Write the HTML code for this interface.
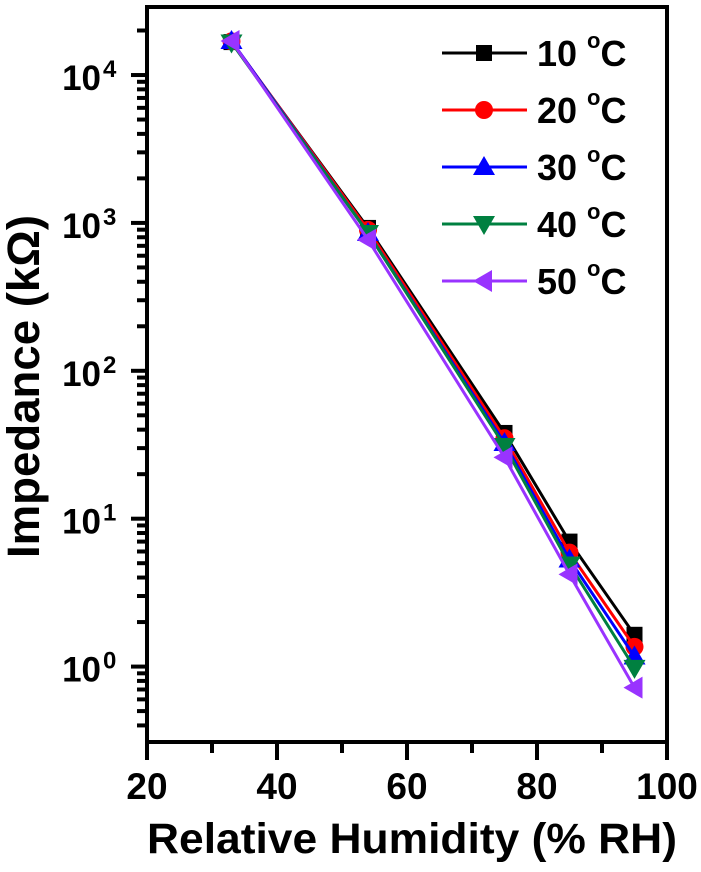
<!DOCTYPE html>
<html><head><meta charset="utf-8"><style>
body{margin:0;background:#fff}
svg text{font-family:"Liberation Sans",Arial,sans-serif;font-weight:bold;fill:#000}
</style></head><body>
<svg id="chart" width="701" height="867" viewBox="0 0 701 867" xmlns="http://www.w3.org/2000/svg">
<g id="axes"></g>
<g id="series"></g>
<g id="legend"></g>
<text x="147" y="853" font-size="43" textLength="530" lengthAdjust="spacingAndGlyphs">Relative Humidity (% RH)</text>
<text transform="translate(39,558) rotate(-90)" font-size="45" textLength="343" lengthAdjust="spacingAndGlyphs">Impedance (kΩ)</text>
</svg>
<script>
const humidity=[33,54,75,85,95];
const labels=["10","20","30","40","50"];
const colors=["#000000","#ff0000","#0000ff","#008040","#9933ff"];
const markers=["square","circle","triUp","triDown","triLeft"];
const s10=[16700,925,38,7.0,1.64];
const s20=[16900,897,35,5.9,1.36];
const s30=[17000,855,32.5,5.3,1.17];
const s40=[16600,855,31,4.9,0.98];
const s50=[17000,770,26,4.2,0.72];
const seriesVals=[s10,s20,s30,s40,s50];
const xTicks=[20,40,60,80,100];
const yTicks=[0,1,2,3,4];

const L=147,R=667,T=7,B=742;
const xS=v=>L+(v-20)*(R-L)/80;
const yTop=4.46,yBot=-0.51;
const yS=v=>T+(yTop-Math.log10(v))*(B-T)/(yTop-yBot);
const NS="http://www.w3.org/2000/svg";
function mk(tag,attrs,parent){const e=document.createElementNS(NS,tag);for(const k in attrs)e.setAttribute(k,attrs[k]);parent.appendChild(e);return e;}
const ax=document.getElementById('axes');
const frame=mk('rect',{x:L,y:T,width:R-L,height:B-T,fill:'none',stroke:'#000','stroke-width':4},ax);


for(let v=20;v<=100;v+=10){
  const major=v%20===0;
  const t=mk('line',{x1:xS(v),x2:xS(v),y1:B,y2:B+(major?18:11),stroke:'#000','stroke-width':4},ax);
  
  
}
xTicks.forEach(v=>{
  const t=mk('text',{x:xS(v),y:799,'font-size':37,'text-anchor':'middle'},ax);
  t.textContent=v;
  
  
});
for(let d=-1;d<=4;d++){
  for(let m=1;m<=9;m++){
    const v=m*Math.pow(10,d);const y=yS(v);
    if(y<T-1||y>B+1)continue;
    const t=mk('line',{x1:L,x2:L-(m===1?16:10),y1:y,y2:y,stroke:'#000','stroke-width':4},ax);
    
    
  }
}
yTicks.forEach(p=>{
  const y0=yS(Math.pow(10,p));
  const t=mk('text',{x:101,y:y0+15,'font-size':35,'text-anchor':'end'},ax);
  t.textContent='10';
  
  
  const s=mk('text',{x:103,y:y0+2,'font-size':24},ax);
  s.textContent=p;
  
  
});
function marker(type,x,y,c,parent){
  let e;
  if(type==='square')e=mk('rect',{x:x-8,y:y-8,width:16,height:16,fill:c},parent);
  else if(type==='circle')e=mk('circle',{cx:x,cy:y,r:9,fill:c},parent);
  else if(type==='triUp')e=mk('polygon',{points:`${x},${y-11} ${x+11},${y+8} ${x-11},${y+8}`,fill:c},parent);
  else if(type==='triDown')e=mk('polygon',{points:`${x},${y+11} ${x+11},${y-8} ${x-11},${y-8}`,fill:c},parent);
  else e=mk('polygon',{points:`${x-11},${y} ${x+8},${y-11} ${x+8},${y+11}`,fill:c},parent);
  return e;
}
const sg=document.getElementById('series');
seriesVals.forEach((vals,i)=>{
  const g=mk('g',{},sg);
  
  
  const pl=mk('polyline',{points:vals.map((v,j)=>xS(humidity[j])+','+yS(v)).join(' '),fill:'none',stroke:colors[i],'stroke-width':3},g);
  
  
  vals.forEach((v,j)=>{
    const m=marker(markers[i],xS(humidity[j]),yS(v),colors[i],g);
    
    
  });
});
const lg=document.getElementById('legend');
labels.forEach((lab,i)=>{
  const y=53+i*57;
  const g=mk('g',{},lg);
  
  
  mk('line',{x1:442,x2:527,y1:y,y2:y,stroke:colors[i],'stroke-width':3},g);
  marker(markers[i],484,y,colors[i],g);
  const t=mk('text',{x:537,y:y+13,'font-size':36},g);
  t.textContent=lab+' ';
  const o=mk('tspan',{'font-size':22,dy:-18},t);o.textContent='o';
  const c=mk('tspan',{dy:18},t);c.textContent='C';
});
</script>
</body></html>
